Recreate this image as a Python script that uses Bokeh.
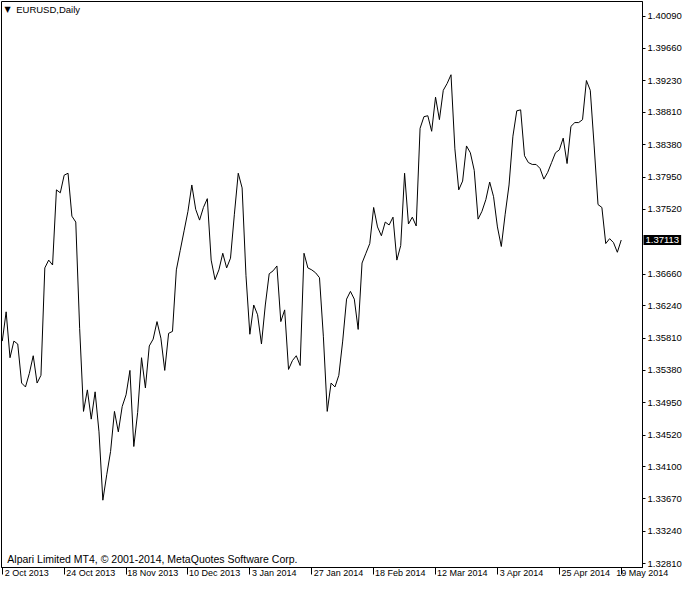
from bokeh.plotting import figure
from bokeh.models import Range1d, FixedTicker, Label, PrintfTickFormatter, LinearAxis
from bokeh.embed import file_html
from bokeh.resources import INLINE

symbol_title = "EURUSD,Daily"
footer_text = "Alpari Limited MT4, \u00a9 2001-2014, MetaQuotes Software Corp."

# EURUSD daily closes, 2 Oct 2013 .. 19 May 2014 (one value per bar)
close = [
    1.35769, 1.36158, 1.35548, 1.35769, 1.35730, 1.35211, 1.35159, 1.35340, 1.35574, 1.35211,
    1.35314, 1.36742, 1.36846, 1.36781, 1.37780, 1.37741, 1.37975, 1.38001, 1.37430, 1.37352,
    1.35937, 1.34834, 1.35120, 1.34731, 1.35094, 1.34562, 1.33653, 1.33991, 1.34302, 1.34834,
    1.34562, 1.34899, 1.35055, 1.35379, 1.34367, 1.34821, 1.35548, 1.35146, 1.35704, 1.35795,
    1.36028, 1.35808, 1.35379, 1.35872, 1.35898, 1.36716, 1.36976, 1.37235, 1.37495, 1.37845,
    1.37521, 1.37378, 1.37546, 1.37663, 1.36846, 1.36586, 1.36716, 1.36937, 1.36742, 1.36872,
    1.37456, 1.38001, 1.37806, 1.36638, 1.35860, 1.36249, 1.36119, 1.35730, 1.36249, 1.36664,
    1.36703, 1.36768, 1.36028, 1.36184, 1.35392, 1.35509, 1.35574, 1.35444, 1.36937, 1.36742,
    1.36716, 1.36677, 1.36612, 1.35834, 1.34834, 1.35211, 1.35159, 1.35314, 1.35769, 1.36327,
    1.36430, 1.36327, 1.35924, 1.36807, 1.36937, 1.37066, 1.37546, 1.37287, 1.37170, 1.37352,
    1.37313, 1.37417, 1.36846, 1.37040, 1.38001, 1.37326, 1.37417, 1.37300, 1.38598, 1.38753,
    1.38766, 1.38559, 1.39013, 1.38714, 1.39104, 1.39195, 1.39311, 1.38325, 1.37780, 1.37897,
    1.38364, 1.38273, 1.38040, 1.37391, 1.37495, 1.37650, 1.37884, 1.37689, 1.37287, 1.37027,
    1.37456, 1.37845, 1.38494, 1.38831, 1.38844, 1.38234, 1.38143, 1.38118, 1.38118, 1.38066,
    1.37923, 1.38014, 1.38143, 1.38273, 1.38312, 1.38468, 1.38130, 1.38624, 1.38675, 1.38675,
    1.38714, 1.39234, 1.39104, 1.38364, 1.37585, 1.37546, 1.37066, 1.37131, 1.37079, 1.36950,
    1.37113,
]

last_price = 1.37113

x_tick_labels = ["2 Oct 2013", "24 Oct 2013", "18 Nov 2013", "10 Dec 2013", "3 Jan 2014",
                 "27 Jan 2014", "18 Feb 2014", "12 Mar 2014", "3 Apr 2014", "25 Apr 2014",
                 "19 May 2014"]
bars_per_label = 16

y_ticks = [1.40090, 1.39660, 1.39230, 1.38810, 1.38380, 1.37950, 1.37520,
           1.36660, 1.36240, 1.35810, 1.35380, 1.34950, 1.34520, 1.34100,
           1.33670, 1.33240, 1.32810]

FONT = "Liberation Sans"
FSIZE = "9.5px"
XFSIZE = "9px"
CHAR_W = 4.5       # approx. px per character at XFSIZE
PX_PER_BAR = 3.88  # approx. frame px per bar
X_START, X_END = -0.2, 165.5

bars = list(range(len(close)))
x_tick_pos = [i * bars_per_label for i in range(len(x_tick_labels))]
# MT4 draws date labels left-aligned just right of their tick: shift label anchors
x_label_pos = [round(min(pos + (len(lab) * CHAR_W / 2 + 2) / PX_PER_BAR, X_END - 0.05), 3)
               for pos, lab in zip(x_tick_pos, x_tick_labels)]

p = figure(width=684, height=584, output_backend="svg", toolbar_location=None,
           x_range=Range1d(X_START, X_END), y_range=Range1d(1.32758, 1.40285),
           y_axis_location="right",
           min_border_left=1, min_border_top=1, min_border_right=40, min_border_bottom=16)

p.background_fill_color = "white"
p.border_fill_color = "white"
p.outline_line_color = "black"
p.outline_line_width = 1
p.xgrid.visible = False
p.ygrid.visible = False

p.line(bars, close, line_color="black", line_width=1)

# x axis: tick marks only
xa = p.xaxis[0]
xa.ticker = FixedTicker(ticks=x_tick_pos)
xa.major_label_text_font_size = "0px"
xa.major_label_text_color = None
xa.major_label_standoff = 0
xa.major_tick_out = 7
xa.major_tick_in = 0
xa.minor_tick_out = 0
xa.minor_tick_in = 0
xa.axis_line_color = "black"
xa.major_tick_line_color = "black"

# current price box (drawn over the right axis)
p.add_layout(Label(x=X_END, y=last_price, text="%.5f" % last_price, text_font=FONT,
                   text_font_size=FSIZE, text_baseline="middle", text_align="left",
                   text_color="white", background_fill_color="black", x_offset=1,
                   padding=2), "below")

# x axis: date labels (left-aligned look)
xl = LinearAxis(ticker=FixedTicker(ticks=x_label_pos),
                major_label_overrides={lp: lab for lp, lab in zip(x_label_pos, x_tick_labels)},
                axis_line_color=None, major_tick_line_color=None, minor_tick_line_color=None,
                major_tick_out=0, major_tick_in=0, minor_tick_out=0, minor_tick_in=0,
                major_label_standoff=-17, major_label_text_font=FONT,
                major_label_text_font_size=XFSIZE, major_label_text_color="black")
p.add_layout(xl, "below")

# y axis
ya = p.yaxis[0]
ya.ticker = FixedTicker(ticks=y_ticks)
ya.formatter = PrintfTickFormatter(format="%.5f")
ya.major_label_text_font = FONT
ya.major_label_text_font_size = FSIZE
ya.major_label_text_color = "black"
ya.major_tick_out = 3
ya.major_tick_in = 0
ya.minor_tick_out = 0
ya.minor_tick_in = 0
ya.major_label_standoff = 2
ya.axis_line_color = "black"
ya.major_tick_line_color = "black"

# texts
p.add_layout(Label(x=0.6, y=1.40240, text="\u25bc", text_font="DejaVu Sans",
                   text_font_size="8px", text_baseline="top", text_color="black"))
p.add_layout(Label(x=3.6, y=1.40250, text=symbol_title, text_font=FONT,
                   text_font_size=FSIZE, text_baseline="top", text_color="black"))
p.add_layout(Label(x=1.3, y=1.32790, text=footer_text, text_font=FONT,
                   text_font_size="10.5px", text_baseline="bottom", text_color="black"))

open("out.html", "w").write(file_html(p, INLINE))
